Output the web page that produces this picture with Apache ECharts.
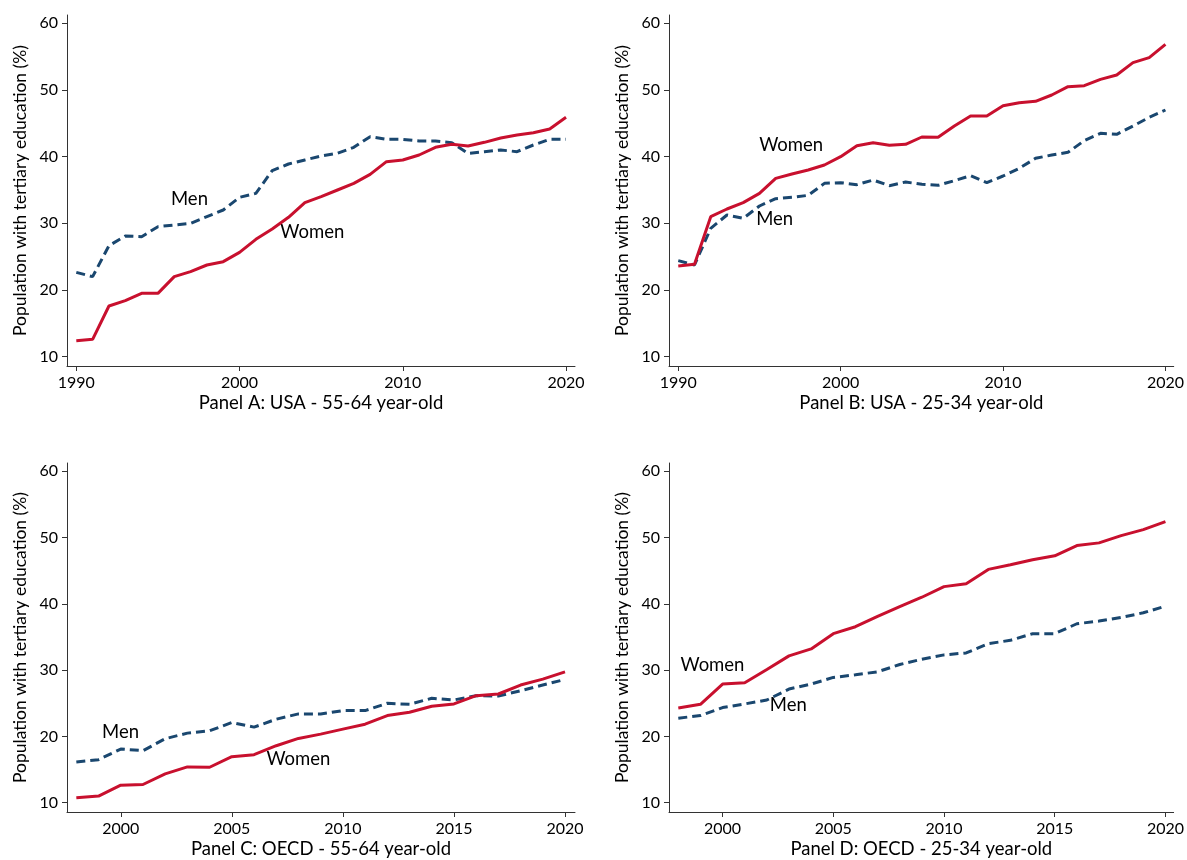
<!DOCTYPE html>
<html>
<head>
<meta charset="utf-8">
<script src="https://cdn.jsdelivr.net/npm/echarts@6/dist/echarts.min.js"></script>
<style>
  html, body { margin: 0; padding: 0; background: #fff; }
  #chart { width: 1187px; height: 860px; }
</style>
</head>
<body>
<div id="chart"></div>
<script>
// years
const yearsUSA = [1990, 1991, 1992, 1993, 1994, 1995, 1996, 1997, 1998, 1999, 2000,
  2001, 2002, 2003, 2004, 2005, 2006, 2007, 2008, 2009, 2010,
  2011, 2012, 2013, 2014, 2015, 2016, 2017, 2018, 2019, 2020]
const yearsOECD = [1998, 1999, 2000, 2001, 2002, 2003, 2004, 2005, 2006, 2007, 2008, 2009, 2010,
  2011, 2012, 2013, 2014, 2015, 2016, 2017, 2018, 2019, 2020]

// Panel A: USA 55-64
const womenA = [12.4, 12.6, 17.6, 18.4, 19.5, 19.5, 22.0, 22.75, 23.75, 24.25, 25.65,
  27.6, 29.15, 30.9, 33.1, 34.0, 35.0, 36.0, 37.35, 39.25, 39.5,
  40.25, 41.4, 41.85, 41.6, 42.15, 42.8, 43.25, 43.6, 44.15, 45.9]
const menA = [22.65, 22.0, 26.65, 28.1, 28.0, 29.5, 29.75, 30.0, 31.0, 32.0, 33.9,
  34.5, 37.9, 38.9, 39.5, 40.1, 40.5, 41.4, 43.0, 42.6, 42.6,
  42.35, 42.35, 42.1, 40.5, 40.75, 41.0, 40.75, 41.75, 42.6, 42.6]

// Panel B: USA 25-34
const womenB = [23.6, 23.85, 31.0, 32.15, 33.1, 34.5, 36.75, 37.4, 38.0, 38.75, 40.0,
  41.65, 42.1, 41.7, 41.85, 42.95, 42.9, 44.6, 46.1, 46.1, 47.65,
  48.1, 48.3, 49.25, 50.5, 50.65, 51.6, 52.25, 54.1, 54.85, 56.85]
const menB = [24.4, 23.75, 29.25, 31.25, 30.75, 32.6, 33.7, 33.9, 34.2, 36.0, 36.1,
  35.8, 36.5, 35.65, 36.2, 35.85, 35.7, 36.4, 37.15, 36.1, 37.1,
  38.25, 39.75, 40.25, 40.65, 42.4, 43.5, 43.35, 44.6, 45.9, 47.0]

// Panel C: OECD 55-64
const womenC = [10.75, 11.0, 12.65, 12.75, 14.35, 15.4, 15.35, 16.95, 17.25, 18.6, 19.7, 20.35, 21.1,
  21.85, 23.15, 23.65, 24.55, 24.9, 26.15, 26.4, 27.75, 28.65, 29.75]
const menC = [16.15, 16.5, 18.1, 17.85, 19.65, 20.5, 20.85, 22.1, 21.4, 22.6, 23.4, 23.4, 23.9,
  23.9, 25.0, 24.85, 25.75, 25.5, 26.15, 26.1, 26.9, 27.75, 28.6]

// Panel D: OECD 25-34
const womenD = [24.3, 24.85, 27.9, 28.1, 30.1, 32.15, 33.2, 35.5, 36.55, 38.1, 39.6, 41.0, 42.6,
  43.05, 45.2, 45.9, 46.65, 47.25, 48.8, 49.2, 50.3, 51.2, 52.4]
const menD = [22.75, 23.15, 24.35, 24.9, 25.5, 27.15, 27.9, 28.9, 29.3, 29.75, 30.85, 31.65, 32.3,
  32.6, 34.0, 34.5, 35.5, 35.5, 37.0, 37.4, 37.95, 38.65, 39.65]

// tick labels
const yTicks = [10, 20, 30, 40, 50, 60]
const xTicksUSA = [1990, 2000, 2010, 2020]
const xTicksOECD = [2000, 2005, 2010, 2015, 2020]

// panel titles and in-chart labels [x, y]
const panelTitles = ['Panel A: USA - 55-64 year-old', 'Panel B: USA - 25-34 year-old',
  'Panel C: OECD - 55-64 year-old', 'Panel D: OECD - 25-34 year-old']
const labelWomen = [[2002.5, 28.75], [1994.98, 41.75], [2006.56, 16.65], [1998.1, 30.75]]
const labelMen = [[1995.8, 33.65], [1994.8, 30.65], [1999.16, 20.65], [2002.13, 24.75]]

const RED = '#c8102e'
const NAVY = '#1a476f'
const FONT = 'Lato'

const panels = [
  { years: yearsUSA, women: womenA, men: menA, ticks: xTicksUSA, xmin: 1989.43, xmax: 2020.55, grid: { left: 67, top: 15, width: 508, height: 351 } },
  { years: yearsUSA, women: womenB, men: menB, ticks: xTicksUSA, xmin: 1989.43, xmax: 2020.51, grid: { left: 669, top: 15, width: 506, height: 351 } },
  { years: yearsOECD, women: womenC, men: menC, ticks: xTicksOECD, xmin: 1997.58, xmax: 2020.45, grid: { left: 67, top: 463, width: 508, height: 351 } },
  { years: yearsOECD, women: womenD, men: menD, ticks: xTicksOECD, xmin: 1997.58, xmax: 2020.37, grid: { left: 669, top: 463, width: 506, height: 351 } }
]

const axisLine = { show: true, lineStyle: { color: '#333', width: 1 } }
const axisTick = { show: true, inside: false, length: 5, lineStyle: { color: '#333' } }

let grid = []
let xAxis = []
let yAxis = []
let series = []

panels.forEach((p, i) => {
  grid.push(Object.assign({ containLabel: false }, p.grid))
  xAxis.push({
    type: 'value',
    gridIndex: i,
    min: p.xmin,
    max: p.xmax,
    name: panelTitles[i],
    nameLocation: 'middle',
    nameGap: 28,
    nameTextStyle: { fontFamily: FONT, fontSize: 18.5, color: '#000' },
    axisLine: axisLine,
    axisTick: Object.assign({ customValues: p.ticks }, axisTick),
    axisLabel: {
      customValues: p.ticks,
      margin: 9,
      fontFamily: FONT,
      fontSize: 16,
      color: '#000',
      formatter: v => String(v)
    },
    splitLine: { show: false }
  })
  yAxis.push({
    type: 'value',
    gridIndex: i,
    min: 8.6,
    max: 61.25,
    name: 'Population with tertiary education (%)',
    nameLocation: 'middle',
    nameGap: 38,
    nameTextStyle: { fontFamily: FONT, fontSize: 17.5, color: '#000' },
    axisLine: axisLine,
    axisTick: Object.assign({ customValues: yTicks }, axisTick),
    axisLabel: {
      customValues: yTicks,
      margin: 9,
      fontFamily: FONT,
      fontSize: 16,
      color: '#000'
    },
    splitLine: { show: false }
  })
  series.push({
    name: 'Men',
    type: 'line',
    xAxisIndex: i,
    yAxisIndex: i,
    data: p.years.map((y, k) => [y, p.men[k]]),
    showSymbol: false,
    lineStyle: { color: NAVY, width: 3, type: [9, 5] },
    animation: false
  })
  series.push({
    name: 'Women',
    type: 'line',
    xAxisIndex: i,
    yAxisIndex: i,
    data: p.years.map((y, k) => [y, p.women[k]]),
    showSymbol: false,
    lineStyle: { color: RED, width: 3 },
    animation: false
  })
  // text labels on the lines
  series.push({
    type: 'scatter',
    xAxisIndex: i,
    yAxisIndex: i,
    symbolSize: 0,
    silent: true,
    itemStyle: { opacity: 1 },
    data: [
      { value: labelMen[i], label: { formatter: 'Men' } },
      { value: labelWomen[i], label: { formatter: 'Women' } }
    ],
    label: {
      show: true,
      position: 'right',
      distance: 0,
      fontFamily: FONT,
      fontSize: 18.5,
      color: '#000'
    },
    animation: false
  })
})

const chart = echarts.init(document.getElementById('chart'), null, { renderer: 'canvas' })
chart.setOption({
  backgroundColor: '#fff',
  animation: false,
  grid: grid,
  xAxis: xAxis,
  yAxis: yAxis,
  series: series
})
</script>
</body>
</html>
